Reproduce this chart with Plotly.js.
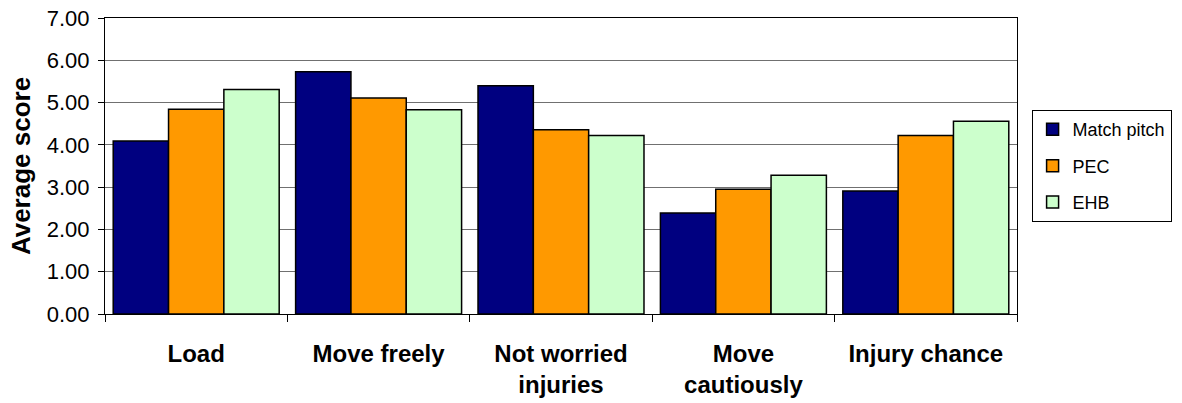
<!DOCTYPE html>
<html>
<head>
<meta charset="utf-8">
<script src="https://cdn.plot.ly/plotly-3.0.1.min.js"></script>
<style>html,body{margin:0;padding:0;background:#fff;overflow:hidden;}#chart{width:1182px;height:403px;}</style>
</head>
<body>
<div id="chart"></div>
<script>
const categories = ["Load", "Move freely", "Not worried<br>injuries", "Move<br>cautiously", "Injury chance"];
const matchPitch = [4.09, 5.73, 5.40, 2.39, 2.91];
const pec = [4.84, 5.11, 4.36, 2.95, 4.22];
const ehb = [5.31, 4.83, 4.22, 3.28, 4.56];
const seriesNames = ["Match pitch", "PEC", "EHB"];
const colors = ["#000080", "#FF9900", "#CCFFCC"];

const values = [matchPitch, pec, ehb];
const traces = values.map((v, i) => ({
  type: "bar",
  name: seriesNames[i],
  legendgroup: "g" + i,
  x: categories,
  y: v,
  marker: {color: colors[i], line: {color: "#000", width: 1.5}},
  hoverinfo: "x+y+name"
}));

const layout = {
  width: 1182, height: 403,
  margin: {l: 105, r: 165, t: 18, b: 89, autoexpand: false},
  paper_bgcolor: "#fff", plot_bgcolor: "#fff",
  font: {family: "Liberation Sans, Arial, sans-serif", color: "#000"},
  barmode: "group",
  bargap: 0.09, bargroupgap: 0,
  xaxis: {
    type: "category",
    tickson: "boundaries",
    ticks: "outside", ticklen: 7, tickcolor: "#000",
    showline: true, linecolor: "#000", linewidth: 1, mirror: true,
    showgrid: false,
    ticklabelstandoff: 18,
    tickfont: {size: 24, family: "Liberation Sans, Arial, sans-serif", weight: "bold"}
  },
  yaxis: {
    range: [0, 7], dtick: 1, tickformat: ".2f",
    ticks: "outside", ticklen: 6, tickcolor: "#000",
    showline: true, linecolor: "#000", linewidth: 1, mirror: true,
    showgrid: true, gridcolor: "#707070", gridwidth: 1,
    zeroline: false,
    ticklabelstandoff: 4,
    tickfont: {size: 22},
    title: {text: "<b>Average score</b>", font: {size: 26}, standoff: 8}
  },
  legend: {
    x: 1.016, y: 0.689, xanchor: "left", yanchor: "top",
    bordercolor: "#000", borderwidth: 1, bgcolor: "#fff",
    font: {size: 18}, traceorder: "grouped", tracegroupgap: 10,
    itemwidth: 30
  },
  showlegend: true
};

Plotly.newPlot("chart", traces, layout, {displayModeBar: false, staticPlot: true});
</script>
</body>
</html>
